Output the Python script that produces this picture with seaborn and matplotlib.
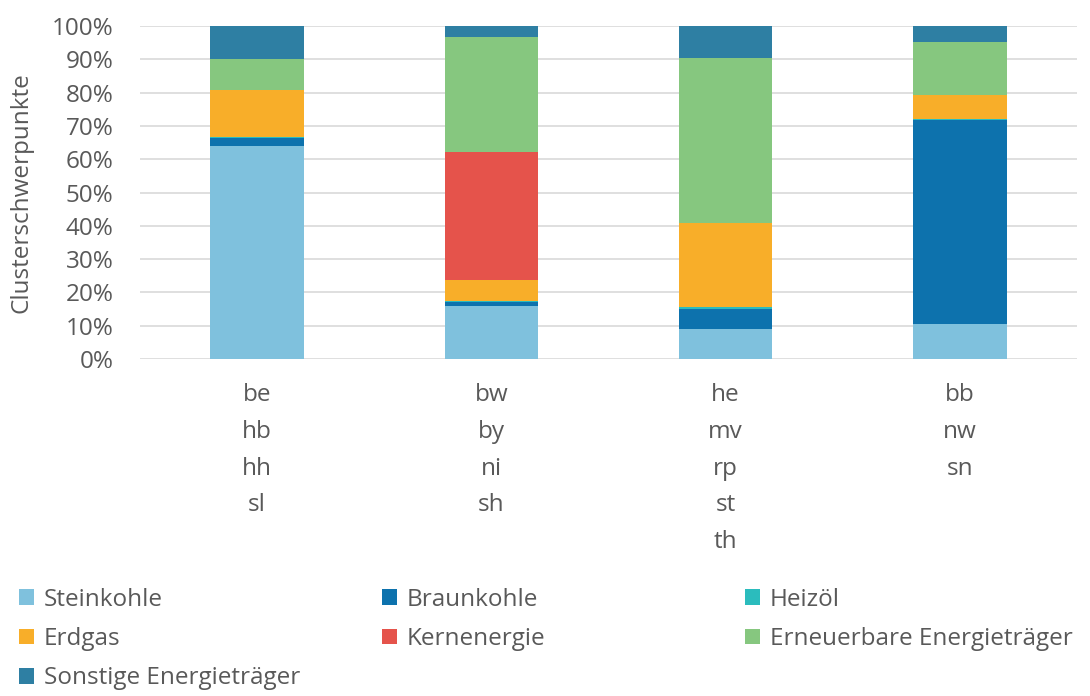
import numpy as np
import pandas as pd
import matplotlib
matplotlib.use("Agg")
import matplotlib.pyplot as plt
import seaborn as sns
from matplotlib.patches import Patch

categories = ["be\nhb\nhh\nsl", "bw\nby\nni\nsh", "he\nmv\nrp\nst\nth", "bb\nnw\nsn"]
series_names = ["Steinkohle", "Braunkohle", "Heizöl", "Erdgas", "Kernenergie",
                "Erneuerbare Energieträger", "Sonstige Energieträger"]
steinkohle = [64.0, 15.8, 8.9, 10.5]
braunkohle = [2.3, 1.2, 6.2, 61.2]
heizoel = [0.4, 0.4, 0.4, 0.4]
erdgas = [14.0, 6.2, 25.3, 7.3]
kernenergie = [0.0, 38.5, 0.0, 0.0]
erneuerbare = [9.3, 34.5, 49.7, 15.7]
sonstige = [10.0, 3.4, 9.5, 4.9]
colors = ["#7fc1dd", "#0d72ad", "#2bbcbd", "#f8ae29", "#e5534b", "#86c77f", "#2e7fa3"]
yticks = [0, 10, 20, 30, 40, 50, 60, 70, 80, 90, 100]

series = [steinkohle, braunkohle, heizoel, erdgas, kernenergie, erneuerbare, sonstige]

sns.set_theme(style="white")
plt.rcParams['font.family'] = ['Open Sans', 'DejaVu Sans']
text_color = "#595959"
fs = 17.5

fig = plt.figure(figsize=(10.9, 6.96), dpi=100)
ax = fig.add_axes([140 / 1090, 1 - 359 / 696, (1077 - 140) / 1090, (359 - 26) / 696])

cum = np.cumsum(np.array(series), axis=0)
for i in range(len(series) - 1, -1, -1):
    df = pd.DataFrame({"cat": categories, "val": cum[i]})
    sns.barplot(data=df, x="cat", y="val", order=categories, color=colors[i],
                saturation=1, width=0.4, errorbar=None, ax=ax, linewidth=0, zorder=3)

ax.set_ylim(0, 100)
ax.set_xlim(-0.5, len(categories) - 0.5)
ax.set_yticks(yticks)
ax.set_yticklabels([f"{t}%" for t in yticks], fontsize=fs, color=text_color)
ax.yaxis.grid(True, color="#d9d9d9", linewidth=1.2, zorder=0)
ax.set_axisbelow(True)
for s in ax.spines.values():
    s.set_visible(False)
ax.tick_params(axis="both", length=0)
ax.tick_params(axis="y", pad=19)
ax.tick_params(axis="x", pad=17)
for lab in ax.get_xticklabels():
    lab.set_fontsize(fs)
    lab.set_color(text_color)
    lab.set_linespacing(1.72)
    lab.set_verticalalignment("top")
ax.set_xlabel("")
ax.set_ylabel("Clusterschwerpunkte", fontsize=fs, color=text_color)
ax.yaxis.set_label_coords((22 - 140) / 937, 0.5)
ax.yaxis.label.set_verticalalignment("center")

handles = [Patch(facecolor=c, edgecolor="none") for c in colors]
columns = [[0, 3, 6], [1, 4], [2, 5]]
col_x = [14, 377, 740]
for xs, idx in zip(col_x, columns):
    leg = fig.legend([handles[i] for i in idx], [series_names[i] for i in idx],
                     loc="upper left", bbox_to_anchor=(xs / 1090, 1 - 583 / 696),
                     frameon=False, fontsize=fs, handlelength=0.62, handleheight=0.62,
                     handletextpad=0.4, labelspacing=0.63, borderaxespad=0, borderpad=0.2)
    for t in leg.get_texts():
        t.set_color(text_color)

fig.savefig("out.png", dpi=100)
